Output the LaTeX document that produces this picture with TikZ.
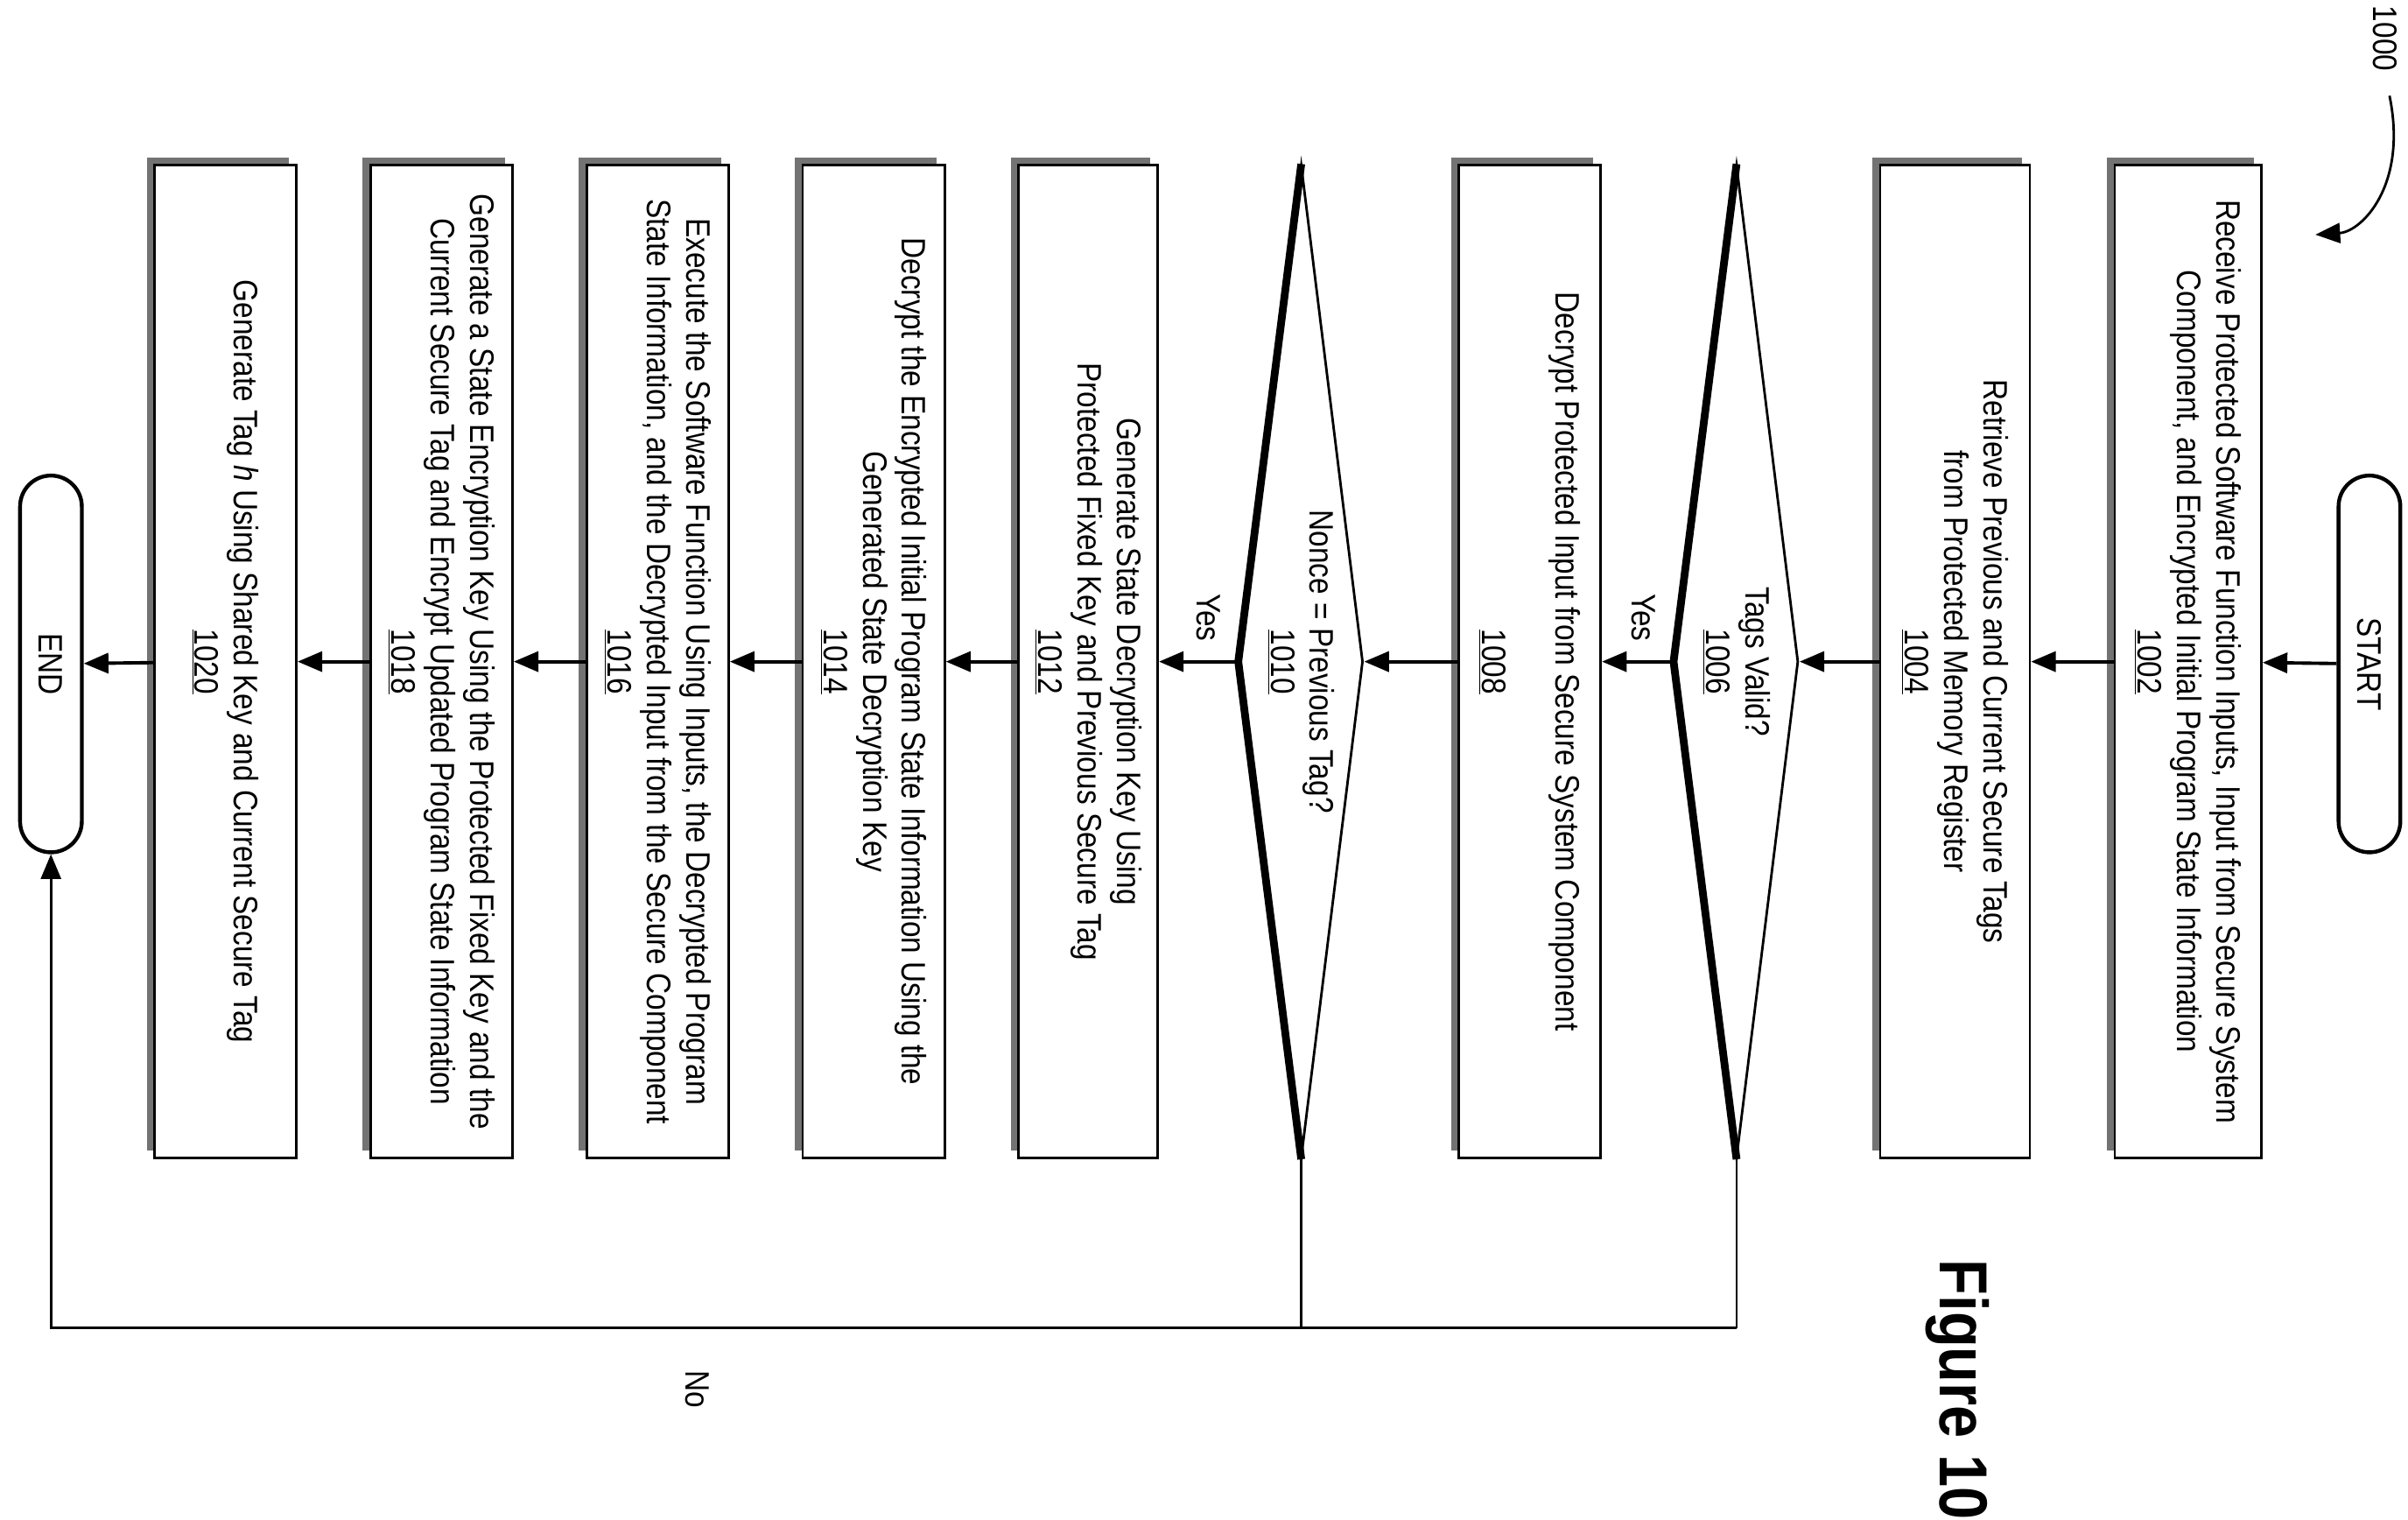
\documentclass[tikz,border=0pt]{standalone}
\usepackage{fontspec}
\setmainfont{Liberation Sans}[FakeStretch=0.86]
\usetikzlibrary{shapes.geometric,arrows.meta,shadows}
\begin{document}
\begin{tikzpicture}[x=1pt,y=1pt,
  every node/.style={font=\fontsize{22}{25.5}\selectfont},
  box/.style={draw,line width=1.6pt,fill=white,rotate=-90,minimum width=643pt,align=center,inner sep=0pt,
     general shadow={shadow xshift=-5pt,shadow yshift=5pt,fill=black!55}},
  term/.style={draw,line width=2.5pt,rotate=-90,minimum width=244pt,minimum height=40pt,rounded corners=20pt,inner sep=0pt},
  dia/.style={draw,line width=1.6pt,diamond,minimum width=80pt,minimum height=643pt,inner sep=0pt},
  txt/.style={rotate=-90,align=center,inner sep=0pt},
  arr/.style={line width=2.2pt,-{Triangle[length=16pt,width=13pt]}},
  ln/.style={line width=1.6pt}]
\useasboundingbox (0,0) rectangle (1560,-984);
\node[term] (start) at (1535,-430) {START};
\node[box,minimum height=95pt] (b1002) at (1417.5,-428.5) {Receive Protected Software Function Inputs, Input from Secure System\\Component, and Encrypted Initial Program State Information\\\underline{1002}};
\node[box,minimum height=97pt] (b1004) at (1266.5,-428.5) {Retrieve Previous and Current Secure Tags\\from Protected Memory Register\\\underline{1004}};
\node[dia] (d1006) at (1125,-428.5) {};
\draw[line width=5pt] (d1006.north) -- (d1006.west) -- (d1006.south);
\node[txt] (t1006) at (1125,-428.5) {Tags Valid?\\\underline{1006}};
\node[box,minimum height=92pt] (b1008) at (991,-428.5) {Decrypt Protected Input from Secure System Component\\[22pt]\underline{1008}};
\node[dia] (d1010) at (843,-428.5) {};
\draw[line width=5pt] (d1010.north) -- (d1010.west) -- (d1010.south);
\node[txt] (t1010) at (843,-428.5) {Nonce = Previous Tag?\\\underline{1010}};
\node[box,minimum height=90pt] (b1012) at (705,-428.5) {Generate State Decryption Key Using\\Protected Fixed Key and Previous Secure Tag\\\underline{1012}};
\node[box,minimum height=92pt] (b1014) at (566,-428.5) {Decrypt the Encrypted Initial Program State Information Using the\\Generated State Decryption Key\\\underline{1014}};
\node[box,minimum height=92pt] (b1016) at (426,-428.5) {Execute the Software Function Using Inputs, the Decrypted Program\\State Information, and the Decrypted Input from the Secure Component\\\underline{1016}};
\node[box,minimum height=92pt] (b1018) at (286,-428.5) {Generate a State Encryption Key Using the Protected Fixed Key and the\\Current Secure Tag and Encrypt Updated Program State Information\\\underline{1018}};
\node[box,minimum height=92pt] (b1020) at (146,-428.5) {Generate Tag \textit{h} Using Shared Key and Current Secure Tag\\\underline{1020}};
\node[term] (endn) at (33,-430) {END};
\draw[arr] (start) -- (b1002);
\draw[arr] (b1002) -- (b1004);
\draw[arr] (b1004) -- (d1006.east);
\draw[arr] (d1006.west) -- (b1008);
\draw[arr] (b1008) -- (d1010.east);
\draw[arr] (d1010.west) -- (b1012);
\draw[arr] (b1012) -- (b1014);
\draw[arr] (b1014) -- (b1016);
\draw[arr] (b1016) -- (b1018);
\draw[arr] (b1018) -- (b1020);
\draw[arr] (b1020) -- (endn);
\node[txt] (y1) at (1065,-400) {Yes};
\node[txt] (y2) at (783,-400) {Yes};
\coordinate (c1) at (1125,-860);
\coordinate (c2) at (843,-860);
\draw[ln] (d1006.south) -- (c1);
\draw[ln] (d1010.south) -- (c2);
\draw[arr,line width=1.6pt] (c1) -| (endn.east);
\node[txt] (no) at (452,-900) {No};
\node[txt,font=\bfseries\fontsize{44}{48}\selectfont] (fig) at (1268,-900) {Figure 10};
\node[txt] (n1000) at (1545,-25) {1000};
\coordinate (a0) at (1548,-62);
\coordinate (a1) at (1500,-152);
\draw[arr,line width=1.6pt] (a0) .. controls (1560,-120) and (1530,-150) .. (a1);
\end{tikzpicture}
\end{document}
